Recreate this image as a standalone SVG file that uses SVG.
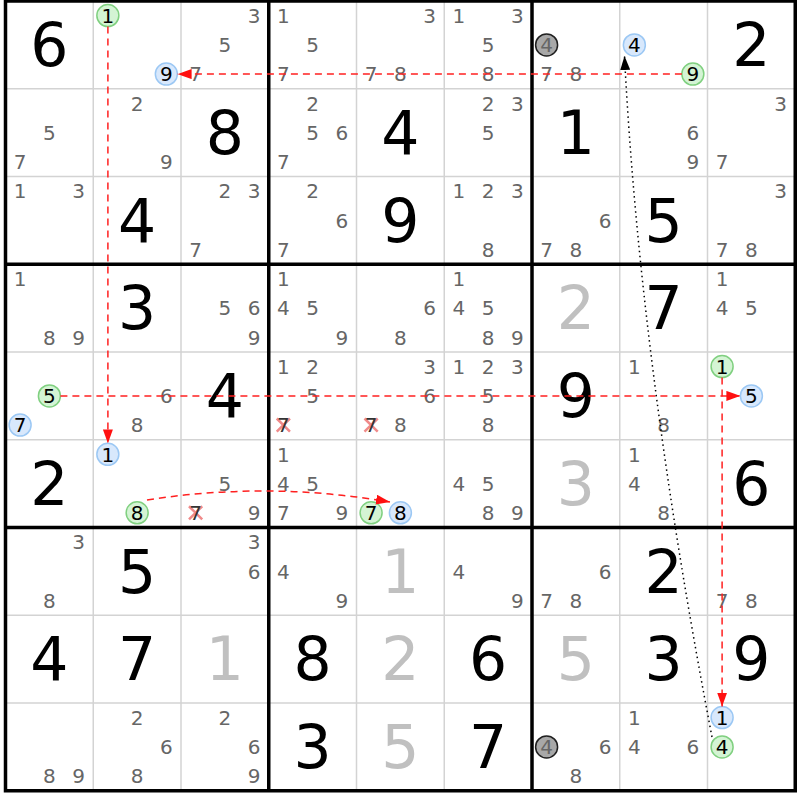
<svg xmlns="http://www.w3.org/2000/svg" width="800" height="800" viewBox="0 0 800 800">
<style>
text{font-family:"DejaVu Sans","Liberation Sans",sans-serif;text-anchor:middle}
.g{font-size:60px;fill:#000}
.s{font-size:60px;fill:#c0c0c0}
.c{font-size:20px;fill:#666}
.k{font-size:20px;fill:#000}
.x{font-size:20px;fill:#333}
.cg{fill:#d4f4d4;stroke:#80d080;stroke-width:1.5}
.cb{fill:#d8e8fc;stroke:#9cc8f4;stroke-width:1.5}
.cz{fill:#a8a8a8;stroke:#202020;stroke-width:1.5}
.thin{stroke:#d3d3d3;stroke-width:1.5}
.thick{stroke:#000;stroke-width:3.5}
.rx{stroke:#f08a8a;stroke-width:2.5}
.red{fill:none;stroke:#ff2020;stroke-width:1.5;stroke-dasharray:7 5}
.dot{fill:none;stroke:#000;stroke-width:1.5;stroke-dasharray:1.5 3.5}
</style>
<defs>
<marker id="ar" markerUnits="userSpaceOnUse" markerWidth="14" markerHeight="10" refX="14" refY="5" orient="auto"><path d="M0,0 L14,5 L0,10 z" fill="#ff1010"/></marker>
<marker id="ab" markerUnits="userSpaceOnUse" markerWidth="14" markerHeight="10" refX="14" refY="5" orient="auto"><path d="M0,0 L14,5 L0,10 z" fill="#000"/></marker>
</defs>
<rect x="0" y="0" width="800" height="800" fill="#fff"/>
<g id="grid">
<path class="thin" d="M93.25,1V790.75M181,1V790.75M356.5,1V790.75M444.25,1V790.75M619.75,1V790.75M707.5,1V790.75M5.5,88.75H795.25M5.5,176.5H795.25M5.5,352H795.25M5.5,439.75H795.25M5.5,615.25H795.25M5.5,703H795.25"/>
<path class="thick" d="M268.75,1V790.75M532,1V790.75M5.5,264.25H795.25M5.5,527.5H795.25"/>
<rect class="thick" x="5.5" y="1" width="789.75" height="789.75" fill="none"/>
</g>
<!-- row 1 -->
<g id="r1c1" transform="translate(5.5,1)"><text class="g" x="43.9" y="65">6</text></g>
<g id="r1c2" transform="translate(93.25,1)"><circle class="cg" cx="14.6" cy="14.6" r="11"/><text class="k" x="14.6" y="21.8">1</text><circle class="cb" cx="73.1" cy="73.1" r="11"/><text class="k" x="73.1" y="80.3">9</text></g>
<g id="r1c3" transform="translate(181,1)"><text class="c" x="73.1" y="21.8">3</text><text class="c" x="43.9" y="51.1">5</text><text class="c" x="14.6" y="80.3">7</text></g>
<g id="r1c4" transform="translate(268.75,1)"><text class="c" x="14.6" y="21.8">1</text><text class="c" x="43.9" y="51.1">5</text><text class="c" x="14.6" y="80.3">7</text></g>
<g id="r1c5" transform="translate(356.5,1)"><text class="c" x="73.1" y="21.8">3</text><text class="c" x="14.6" y="80.3">7</text><text class="c" x="43.9" y="80.3">8</text></g>
<g id="r1c6" transform="translate(444.25,1)"><text class="c" x="14.6" y="21.8">1</text><text class="c" x="73.1" y="21.8">3</text><text class="c" x="43.9" y="51.1">5</text><text class="c" x="43.9" y="80.3">8</text></g>
<g id="r1c7" transform="translate(532,1)"><circle class="cz" cx="14.6" cy="43.9" r="11"/><text class="c" x="14.6" y="51.1">4</text><text class="c" x="14.6" y="80.3">7</text><text class="c" x="43.9" y="80.3">8</text></g>
<g id="r1c8" transform="translate(619.75,1)"><circle class="cb" cx="14.6" cy="43.9" r="11"/><text class="k" x="14.6" y="51.1">4</text><circle class="cg" cx="73.1" cy="73.1" r="11"/><text class="k" x="73.1" y="80.3">9</text></g>
<g id="r1c9" transform="translate(707.5,1)"><text class="g" x="43.9" y="65">2</text></g>
<!-- row 2 -->
<g id="r2c1" transform="translate(5.5,88.75)"><text class="c" x="43.9" y="51.1">5</text><text class="c" x="14.6" y="80.3">7</text></g>
<g id="r2c2" transform="translate(93.25,88.75)"><text class="c" x="43.9" y="21.8">2</text><text class="c" x="73.1" y="80.3">9</text></g>
<g id="r2c3" transform="translate(181,88.75)"><text class="g" x="43.9" y="65">8</text></g>
<g id="r2c4" transform="translate(268.75,88.75)"><text class="c" x="43.9" y="21.8">2</text><text class="c" x="43.9" y="51.1">5</text><text class="c" x="73.1" y="51.1">6</text><text class="c" x="14.6" y="80.3">7</text></g>
<g id="r2c5" transform="translate(356.5,88.75)"><text class="g" x="43.9" y="65">4</text></g>
<g id="r2c6" transform="translate(444.25,88.75)"><text class="c" x="43.9" y="21.8">2</text><text class="c" x="73.1" y="21.8">3</text><text class="c" x="43.9" y="51.1">5</text></g>
<g id="r2c7" transform="translate(532,88.75)"><text class="g" x="43.9" y="65">1</text></g>
<g id="r2c8" transform="translate(619.75,88.75)"><text class="c" x="73.1" y="51.1">6</text><text class="c" x="73.1" y="80.3">9</text></g>
<g id="r2c9" transform="translate(707.5,88.75)"><text class="c" x="73.1" y="21.8">3</text><text class="c" x="14.6" y="80.3">7</text></g>
<!-- row 3 -->
<g id="r3c1" transform="translate(5.5,176.5)"><text class="c" x="14.6" y="21.8">1</text><text class="c" x="73.1" y="21.8">3</text></g>
<g id="r3c2" transform="translate(93.25,176.5)"><text class="g" x="43.9" y="65">4</text></g>
<g id="r3c3" transform="translate(181,176.5)"><text class="c" x="43.9" y="21.8">2</text><text class="c" x="73.1" y="21.8">3</text><text class="c" x="14.6" y="80.3">7</text></g>
<g id="r3c4" transform="translate(268.75,176.5)"><text class="c" x="43.9" y="21.8">2</text><text class="c" x="73.1" y="51.1">6</text><text class="c" x="14.6" y="80.3">7</text></g>
<g id="r3c5" transform="translate(356.5,176.5)"><text class="g" x="43.9" y="65">9</text></g>
<g id="r3c6" transform="translate(444.25,176.5)"><text class="c" x="14.6" y="21.8">1</text><text class="c" x="43.9" y="21.8">2</text><text class="c" x="73.1" y="21.8">3</text><text class="c" x="43.9" y="80.3">8</text></g>
<g id="r3c7" transform="translate(532,176.5)"><text class="c" x="73.1" y="51.1">6</text><text class="c" x="14.6" y="80.3">7</text><text class="c" x="43.9" y="80.3">8</text></g>
<g id="r3c8" transform="translate(619.75,176.5)"><text class="g" x="43.9" y="65">5</text></g>
<g id="r3c9" transform="translate(707.5,176.5)"><text class="c" x="73.1" y="21.8">3</text><text class="c" x="14.6" y="80.3">7</text><text class="c" x="43.9" y="80.3">8</text></g>
<!-- row 4 -->
<g id="r4c1" transform="translate(5.5,264.25)"><text class="c" x="14.6" y="21.8">1</text><text class="c" x="43.9" y="80.3">8</text><text class="c" x="73.1" y="80.3">9</text></g>
<g id="r4c2" transform="translate(93.25,264.25)"><text class="g" x="43.9" y="65">3</text></g>
<g id="r4c3" transform="translate(181,264.25)"><text class="c" x="43.9" y="51.1">5</text><text class="c" x="73.1" y="51.1">6</text><text class="c" x="73.1" y="80.3">9</text></g>
<g id="r4c4" transform="translate(268.75,264.25)"><text class="c" x="14.6" y="21.8">1</text><text class="c" x="14.6" y="51.1">4</text><text class="c" x="43.9" y="51.1">5</text><text class="c" x="73.1" y="80.3">9</text></g>
<g id="r4c5" transform="translate(356.5,264.25)"><text class="c" x="73.1" y="51.1">6</text><text class="c" x="43.9" y="80.3">8</text></g>
<g id="r4c6" transform="translate(444.25,264.25)"><text class="c" x="14.6" y="21.8">1</text><text class="c" x="14.6" y="51.1">4</text><text class="c" x="43.9" y="51.1">5</text><text class="c" x="43.9" y="80.3">8</text><text class="c" x="73.1" y="80.3">9</text></g>
<g id="r4c7" transform="translate(532,264.25)"><text class="s" x="43.9" y="65">2</text></g>
<g id="r4c8" transform="translate(619.75,264.25)"><text class="g" x="43.9" y="65">7</text></g>
<g id="r4c9" transform="translate(707.5,264.25)"><text class="c" x="14.6" y="21.8">1</text><text class="c" x="14.6" y="51.1">4</text><text class="c" x="43.9" y="51.1">5</text></g>
<!-- row 5 -->
<g id="r5c1" transform="translate(5.5,352)"><circle class="cg" cx="43.9" cy="43.9" r="11"/><text class="k" x="43.9" y="51.1">5</text><circle class="cb" cx="14.6" cy="73.1" r="11"/><text class="k" x="14.6" y="80.3">7</text></g>
<g id="r5c2" transform="translate(93.25,352)"><text class="c" x="73.1" y="51.1">6</text><text class="c" x="43.9" y="80.3">8</text></g>
<g id="r5c3" transform="translate(181,352)"><text class="g" x="43.9" y="65">4</text></g>
<g id="r5c4" transform="translate(268.75,352)"><text class="c" x="14.6" y="21.8">1</text><text class="c" x="43.9" y="21.8">2</text><text class="c" x="43.9" y="51.1">5</text><path class="rx" d="M8,66.5L21.2,79.7M21.2,66.5L8,79.7"/><text class="x" x="14.6" y="80.3">7</text></g>
<g id="r5c5" transform="translate(356.5,352)"><text class="c" x="73.1" y="21.8">3</text><text class="c" x="73.1" y="51.1">6</text><path class="rx" d="M8,66.5L21.2,79.7M21.2,66.5L8,79.7"/><text class="x" x="14.6" y="80.3">7</text><text class="c" x="43.9" y="80.3">8</text></g>
<g id="r5c6" transform="translate(444.25,352)"><text class="c" x="14.6" y="21.8">1</text><text class="c" x="43.9" y="21.8">2</text><text class="c" x="73.1" y="21.8">3</text><text class="c" x="43.9" y="51.1">5</text><text class="c" x="43.9" y="80.3">8</text></g>
<g id="r5c7" transform="translate(532,352)"><text class="g" x="43.9" y="65">9</text></g>
<g id="r5c8" transform="translate(619.75,352)"><text class="c" x="14.6" y="21.8">1</text><text class="c" x="43.9" y="80.3">8</text></g>
<g id="r5c9" transform="translate(707.5,352)"><circle class="cg" cx="14.6" cy="14.6" r="11"/><text class="k" x="14.6" y="21.8">1</text><circle class="cb" cx="43.9" cy="43.9" r="11"/><text class="k" x="43.9" y="51.1">5</text></g>
<!-- row 6 -->
<g id="r6c1" transform="translate(5.5,439.75)"><text class="g" x="43.9" y="65">2</text></g>
<g id="r6c2" transform="translate(93.25,439.75)"><circle class="cb" cx="14.6" cy="14.6" r="11"/><text class="k" x="14.6" y="21.8">1</text><circle class="cg" cx="43.9" cy="73.1" r="11"/><text class="k" x="43.9" y="80.3">8</text></g>
<g id="r6c3" transform="translate(181,439.75)"><text class="c" x="43.9" y="51.1">5</text><path class="rx" d="M8,66.5L21.2,79.7M21.2,66.5L8,79.7"/><text class="x" x="14.6" y="80.3">7</text><text class="c" x="73.1" y="80.3">9</text></g>
<g id="r6c4" transform="translate(268.75,439.75)"><text class="c" x="14.6" y="21.8">1</text><text class="c" x="14.6" y="51.1">4</text><text class="c" x="43.9" y="51.1">5</text><text class="c" x="14.6" y="80.3">7</text><text class="c" x="73.1" y="80.3">9</text></g>
<g id="r6c5" transform="translate(356.5,439.75)"><circle class="cg" cx="14.6" cy="73.1" r="11"/><text class="k" x="14.6" y="80.3">7</text><circle class="cb" cx="43.9" cy="73.1" r="11"/><text class="k" x="43.9" y="80.3">8</text></g>
<g id="r6c6" transform="translate(444.25,439.75)"><text class="c" x="14.6" y="51.1">4</text><text class="c" x="43.9" y="51.1">5</text><text class="c" x="43.9" y="80.3">8</text><text class="c" x="73.1" y="80.3">9</text></g>
<g id="r6c7" transform="translate(532,439.75)"><text class="s" x="43.9" y="65">3</text></g>
<g id="r6c8" transform="translate(619.75,439.75)"><text class="c" x="14.6" y="21.8">1</text><text class="c" x="14.6" y="51.1">4</text><text class="c" x="43.9" y="80.3">8</text></g>
<g id="r6c9" transform="translate(707.5,439.75)"><text class="g" x="43.9" y="65">6</text></g>
<!-- row 7 -->
<g id="r7c1" transform="translate(5.5,527.5)"><text class="c" x="73.1" y="21.8">3</text><text class="c" x="43.9" y="80.3">8</text></g>
<g id="r7c2" transform="translate(93.25,527.5)"><text class="g" x="43.9" y="65">5</text></g>
<g id="r7c3" transform="translate(181,527.5)"><text class="c" x="73.1" y="21.8">3</text><text class="c" x="73.1" y="51.1">6</text></g>
<g id="r7c4" transform="translate(268.75,527.5)"><text class="c" x="14.6" y="51.1">4</text><text class="c" x="73.1" y="80.3">9</text></g>
<g id="r7c5" transform="translate(356.5,527.5)"><text class="s" x="43.9" y="65">1</text></g>
<g id="r7c6" transform="translate(444.25,527.5)"><text class="c" x="14.6" y="51.1">4</text><text class="c" x="73.1" y="80.3">9</text></g>
<g id="r7c7" transform="translate(532,527.5)"><text class="c" x="73.1" y="51.1">6</text><text class="c" x="14.6" y="80.3">7</text><text class="c" x="43.9" y="80.3">8</text></g>
<g id="r7c8" transform="translate(619.75,527.5)"><text class="g" x="43.9" y="65">2</text></g>
<g id="r7c9" transform="translate(707.5,527.5)"><text class="c" x="14.6" y="80.3">7</text><text class="c" x="43.9" y="80.3">8</text></g>
<!-- row 8 -->
<g id="r8c1" transform="translate(5.5,615.25)"><text class="g" x="43.9" y="65">4</text></g>
<g id="r8c2" transform="translate(93.25,615.25)"><text class="g" x="43.9" y="65">7</text></g>
<g id="r8c3" transform="translate(181,615.25)"><text class="s" x="43.9" y="65">1</text></g>
<g id="r8c4" transform="translate(268.75,615.25)"><text class="g" x="43.9" y="65">8</text></g>
<g id="r8c5" transform="translate(356.5,615.25)"><text class="s" x="43.9" y="65">2</text></g>
<g id="r8c6" transform="translate(444.25,615.25)"><text class="g" x="43.9" y="65">6</text></g>
<g id="r8c7" transform="translate(532,615.25)"><text class="s" x="43.9" y="65">5</text></g>
<g id="r8c8" transform="translate(619.75,615.25)"><text class="g" x="43.9" y="65">3</text></g>
<g id="r8c9" transform="translate(707.5,615.25)"><text class="g" x="43.9" y="65">9</text></g>
<!-- row 9 -->
<g id="r9c1" transform="translate(5.5,703)"><text class="c" x="43.9" y="80.3">8</text><text class="c" x="73.1" y="80.3">9</text></g>
<g id="r9c2" transform="translate(93.25,703)"><text class="c" x="43.9" y="21.8">2</text><text class="c" x="73.1" y="51.1">6</text><text class="c" x="43.9" y="80.3">8</text></g>
<g id="r9c3" transform="translate(181,703)"><text class="c" x="43.9" y="21.8">2</text><text class="c" x="73.1" y="51.1">6</text><text class="c" x="73.1" y="80.3">9</text></g>
<g id="r9c4" transform="translate(268.75,703)"><text class="g" x="43.9" y="65">3</text></g>
<g id="r9c5" transform="translate(356.5,703)"><text class="s" x="43.9" y="65">5</text></g>
<g id="r9c6" transform="translate(444.25,703)"><text class="g" x="43.9" y="65">7</text></g>
<g id="r9c7" transform="translate(532,703)"><circle class="cz" cx="14.6" cy="43.9" r="11"/><text class="c" x="14.6" y="51.1">4</text><text class="c" x="73.1" y="51.1">6</text><text class="c" x="43.9" y="80.3">8</text></g>
<g id="r9c8" transform="translate(619.75,703)"><text class="c" x="14.6" y="21.8">1</text><text class="c" x="14.6" y="51.1">4</text><text class="c" x="73.1" y="51.1">6</text></g>
<g id="r9c9" transform="translate(707.5,703)"><circle class="cb" cx="14.6" cy="14.6" r="11"/><text class="k" x="14.6" y="21.8">1</text><circle class="cg" cx="14.6" cy="43.9" r="11"/><text class="k" x="14.6" y="51.1">4</text></g>
<g id="connectors">
<path class="red" d="M681.9,74.1H177.6" marker-end="url(#ar)"/>
<path class="red" d="M107.9,26.6V443.4" marker-end="url(#ar)"/>
<path class="red" d="M60.4,395.9H740.4" marker-end="url(#ar)"/>
<path class="red" d="M722.1,377.6V706.6" marker-end="url(#ar)"/>
<path class="red" d="M147,500Q268,481 390,502" marker-end="url(#ar)"/>
<path class="dot" d="M712,737Q640,362 624.5,56" marker-end="url(#ab)"/>
</g>
</svg>
